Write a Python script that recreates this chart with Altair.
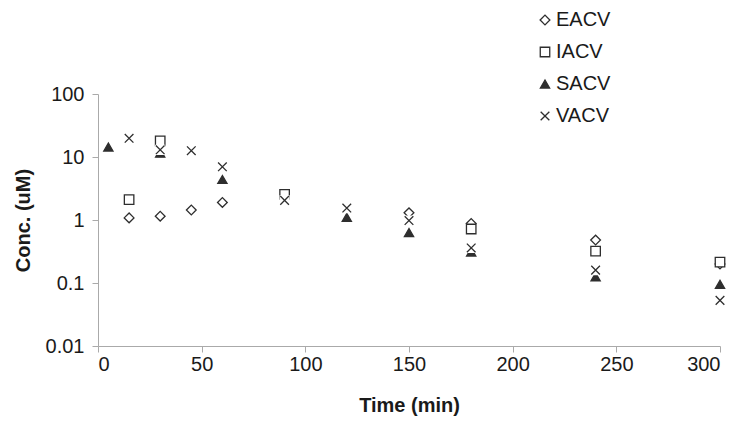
import altair as alt
import pandas as pd

series_names = ["EACV", "IACV", "SACV", "VACV"]

times_EACV = [15, 30, 45, 60, 150, 180, 240, 300]
conc_EACV = [1.08, 1.15, 1.44, 1.9, 1.3, 0.88, 0.48, 0.2]

times_IACV = [15, 30, 90, 180, 240, 300]
conc_IACV = [2.1, 18, 2.55, 0.72, 0.32, 0.215]

times_SACV = [5, 30, 60, 120, 150, 180, 240, 300]
conc_SACV = [14.4, 11.5, 4.4, 1.1, 0.63, 0.31, 0.125, 0.095]

times_VACV = [15, 30, 45, 60, 90, 120, 150, 180, 240, 300]
conc_VACV = [19.8, 13, 12.6, 7.0, 2.05, 1.55, 0.98, 0.36, 0.16, 0.053]

y_ticks = [0.01, 0.1, 1, 10, 100]
x_ticks = [0, 50, 100, 150, 200, 250, 300]

# long table; a white backing square is drawn under each VACV cross (as in the original)
rows = []
for name, ts, cs in [("EACV", times_EACV, conc_EACV),
                     ("IACV", times_IACV, conc_IACV),
                     ("SACV", times_SACV, conc_SACV),
                     ("VACV_bg", times_VACV, conc_VACV),
                     ("VACV", times_VACV, conc_VACV)]:
    for t, c in zip(ts, cs):
        rows.append({"series": name, "time": t, "conc": c, "idx": len(rows)})
df = pd.DataFrame(rows)

dom = ["EACV", "IACV", "SACV", "VACV_bg", "VACV"]
XPATH = "M-1,-1L1,1M-1,1L1,-1"
dark = "#2e2e2e"
FONT = "Liberation Sans"

leg = alt.Legend(values=series_names, title=None, orient="none",
                 legendX=437, legendY=-84, padding=0,
                 labelFont=FONT, labelFontSize=20, labelColor="#1a1a1a",
                 rowPadding=12, labelOffset=1, symbolStrokeWidth=1.3)

chart = alt.Chart(df).mark_point(filled=True, opacity=1, strokeWidth=1.3).encode(
    x=alt.X("time:Q", scale=alt.Scale(domain=[0, 300], nice=False),
            axis=alt.Axis(values=x_ticks, title="Time (min)", grid=False)),
    y=alt.Y("conc:Q", scale=alt.Scale(type="log", domain=[0.01, 100], nice=False),
            axis=alt.Axis(values=y_ticks, format="~g", title="Conc. (uM)", grid=False)),
    shape=alt.Shape("series:N", scale=alt.Scale(domain=dom, range=["diamond", "square", "triangle-up", "square", XPATH]), legend=leg),
    fill=alt.Fill("series:N", scale=alt.Scale(domain=dom, range=["white", "white", dark, "white", "transparent"]), legend=leg),
    stroke=alt.Stroke("series:N", scale=alt.Scale(domain=dom, range=[dark, dark, dark, "white", dark]), legend=leg),
    size=alt.Size("series:N", scale=alt.Scale(domain=dom, range=[95, 75, 110, 95, 80]), legend=leg),
    order=alt.Order("idx:Q"),
).properties(
    width=622, height=252,
    autosize=alt.AutoSizeParams(type="none"),
    padding={"left": 90, "top": 86, "right": 22, "bottom": 70},
).configure_view(stroke=None).configure_axis(
    domainColor="#aaaaaa", tickColor="#aaaaaa", domainWidth=1, tickWidth=1,
    tickSize=6, labelFont=FONT, labelFontSize=20, labelColor="#1a1a1a",
    titleFont=FONT, titleFontSize=20, titleFontWeight="bold", titleColor="#1a1a1a",
).configure_axisX(labelPadding=2, titlePadding=21).configure_axisY(labelPadding=8, titlePadding=12)

chart.save("out.html", embed_options={"renderer": "svg", "actions": False})
